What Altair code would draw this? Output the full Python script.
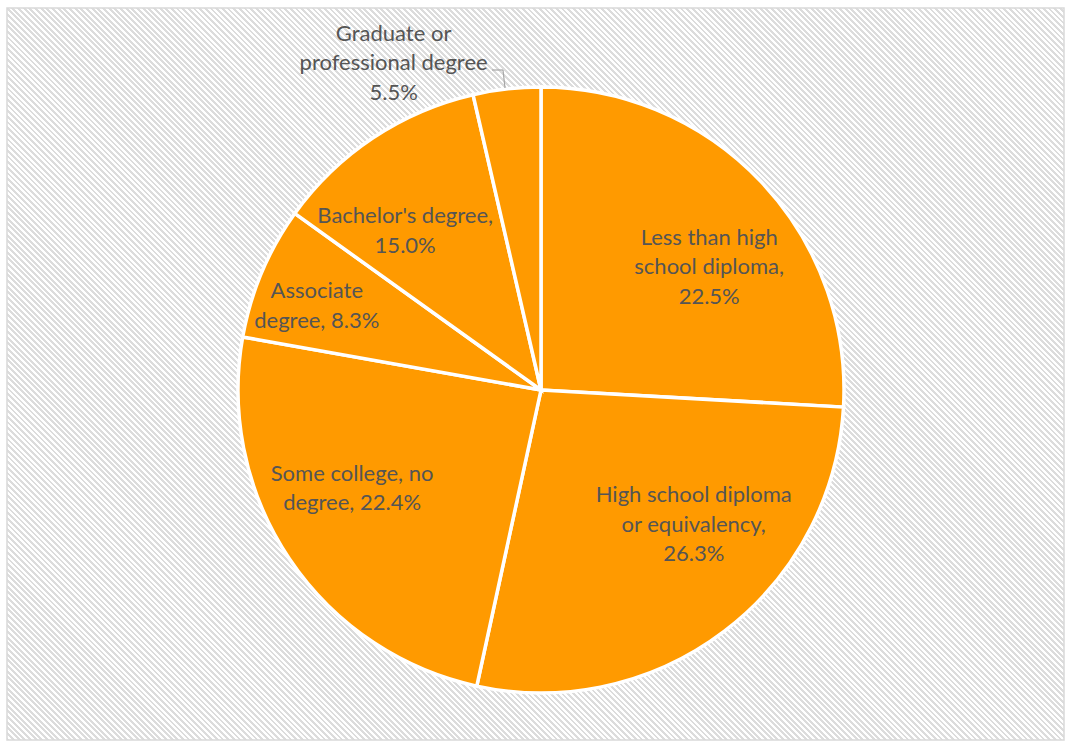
import math
import altair as alt
import pandas as pd

# ---- data ----
categories = [
    "Less than high school diploma",
    "High school diploma or equivalency",
    "Some college, no degree",
    "Associate degree",
    "Bachelor's degree",
    "Graduate or professional degree",
]
# slice sizes as drawn (share of the circle, %)
slice_share = [25.9, 27.5, 24.4, 7.1, 11.5, 3.6]
# data-label texts as printed
label_text = [
    "Less than high\nschool diploma,\n22.5%",
    "High school diploma\nor equivalency,\n26.3%",
    "Some college, no\ndegree, 22.4%",
    "Associate\ndegree, 8.3%",
    "Bachelor's degree,\n15.0%",
    "Graduate or\nprofessional degree\n5.5%",
]

df = pd.DataFrame({
    "idx": list(range(len(categories))),
    "category": categories,
    "share": slice_share,
    "label": label_text,
})

W, H = 1071, 746
CX, CY, R = 541, 390, 303
ORANGE = "#FF9A00"
TEXT = "#555555"
LH = 29.5

total = sum(slice_share)
theta_scale = alt.Scale(domain=[0, total], range=[0, 2 * math.pi])

base = alt.Chart(df).transform_window(
    end="sum(share)", sort=[alt.SortField("idx")], frame=[None, 0]
).transform_calculate(
    start="datum.end - datum.share",
    mid="datum.end - datum.share / 2",
)

# ---- hatched chart-area background (striped linear gradient) ----
bx0, by0, bx1, by1 = 7, 8, 1064, 740
bw, bh = bx1 - bx0, by1 - by0
D = (bw + bh) ** 2 / (bw ** 2 + bh ** 2)
gx = bw * D / (bw + bh)
gy = -bh * D / (bw + bh)
period = 4.0
n = int(((bw + bh) / math.sqrt(2)) / period)
stops = []
for k in range(n):
    a = k / n
    m = (k + 0.5) / n
    b = (k + 1) / n
    stops += [
        {"offset": a, "color": "#dcdcdc"},
        {"offset": m, "color": "#dcdcdc"},
        {"offset": m, "color": "#ffffff"},
        {"offset": b, "color": "#ffffff"},
    ]
gradient = {"gradient": "linear", "x1": 0, "y1": 1, "x2": gx, "y2": 1 + gy, "stops": stops}

bg = alt.Chart(pd.DataFrame({"a": [0]})).mark_rect(
    fill=gradient, stroke="#d9d9d9", strokeWidth=1.5
).encode(
    x=alt.value(bx0), x2=alt.value(bx1), y=alt.value(by0), y2=alt.value(by1)
)

arcs = base.mark_arc(
    outerRadius=R, fill=ORANGE, stroke="white", strokeWidth=3.5
).encode(
    theta=alt.Theta("start:Q", scale=theta_scale),
    theta2="end:Q",
    x=alt.value(CX),
    y=alt.value(CY),
    tooltip=["category:N", "share:Q"],
)

# label placement (radius, dx, dy of the block centre) per slice
placement = [
    (208, 17, 20),
    (206, 28, -29),
    (213, -12, -20),
    (239, -4, 9),
    (209, -20, 15),
    (358, -107, 29),
]

texts = []
for i, (rad, ddx, ddy) in enumerate(placement):
    nlines = label_text[i].count("\n") + 1
    texts.append(
        base.transform_filter(f"datum.idx == {i}").mark_text(
            radius=rad, dx=ddx, dy=ddy - (nlines - 1) * LH / 2,
            font="Lato", fontSize=22, color=TEXT,
            lineBreak="\n", lineHeight=LH, align="center", baseline="middle",
        ).encode(
            theta=alt.Theta("mid:Q", scale=theta_scale),
            text="label:N",
            x=alt.value(CX),
            y=alt.value(CY),
        )
    )

leader_df = pd.DataFrame({"a": [0]})
lead1 = alt.Chart(leader_df).mark_rule(color="#a6a6a6", strokeWidth=1.2).encode(
    x=alt.value(492), x2=alt.value(503), y=alt.value(70), y2=alt.value(70)
)
lead2 = alt.Chart(leader_df).mark_rule(color="#a6a6a6", strokeWidth=1.2).encode(
    x=alt.value(503), x2=alt.value(505), y=alt.value(70), y2=alt.value(88)
)

chart = alt.layer(bg, arcs, *texts, lead1, lead2).properties(
    width=W, height=H, padding=0, autosize="none", background="white"
).configure_view(stroke=None)

chart.save("out.html", embed_options={"renderer": "svg", "actions": False})
